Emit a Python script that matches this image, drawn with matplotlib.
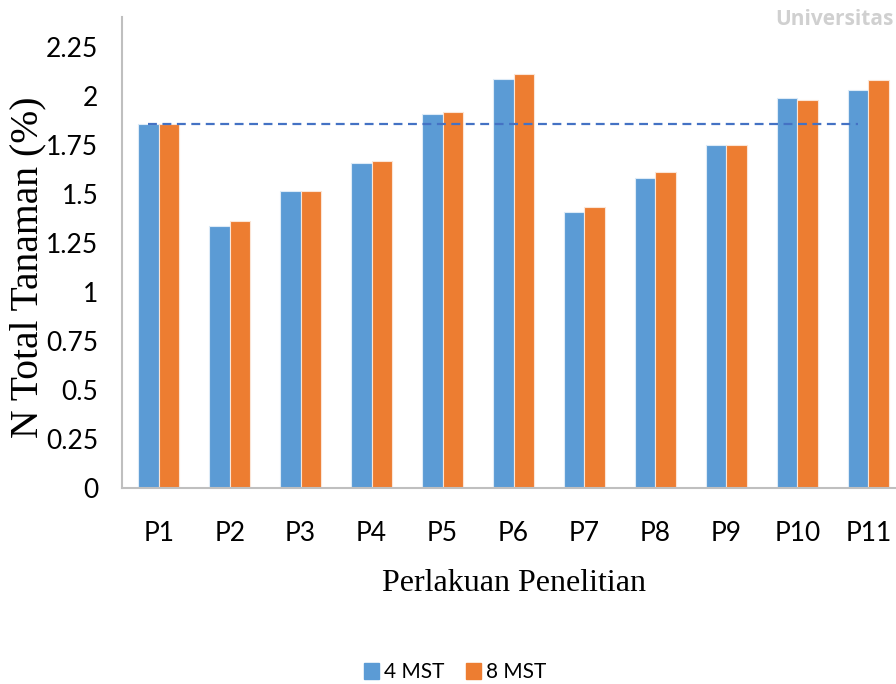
import numpy as np
import matplotlib
matplotlib.use("Agg")
import matplotlib.pyplot as plt
from matplotlib.patches import Patch

# data
perlakuan = ["P1", "P2", "P3", "P4", "P5", "P6", "P7", "P8", "P9", "P10", "P11"]
mst4 = [1.857, 1.335, 1.512, 1.658, 1.908, 2.085, 1.408, 1.578, 1.746, 1.988, 2.027]
mst8 = [1.857, 1.360, 1.512, 1.665, 1.917, 2.110, 1.432, 1.609, 1.746, 1.980, 2.077]
garis_acuan = 1.855
yticks = [0, 0.25, 0.5, 0.75, 1, 1.25, 1.5, 1.75, 2, 2.25]
ytick_labels = ["0", "0.25", "0.5", "0.75", "1", "1.25", "1.5", "1.75", "2", "2.25"]

BIRU = "#5B9BD5"
ORANYE = "#ED7D31"
TICK_FONT = ["Lato", "DejaVu Sans"]
SERIF = ["Liberation Serif", "DejaVu Serif"]

fig = plt.figure(figsize=(8.96, 6.84), dpi=100)
ax = fig.add_axes([0.136, 0.2865, 0.864, 0.6885])

x = np.arange(len(perlakuan))
w = 0.29
ax.bar(x - w / 2, mst4, w, color=BIRU, edgecolor="#DDEBF7", linewidth=0.8, zorder=2)
ax.bar(x + w / 2, mst8, w, color=ORANYE, edgecolor="#FBE5D6", linewidth=0.8, zorder=2)

# garis putus-putus acuan (nilai P1)
ax.plot([x[0] - w / 2, x[-1] - w / 2], [garis_acuan, garis_acuan],
        color="#4472C4", linestyle=(0, (4, 2.5)), linewidth=1.6, zorder=3)

ax.set_xlim(-0.52, 10.39)
ax.set_ylim(0, 2.4)
ax.set_yticks(yticks)
ax.set_yticklabels(ytick_labels, family=TICK_FONT, fontsize=19)
ax.set_xticks(x)
ax.set_xticklabels(perlakuan, family=TICK_FONT, fontsize=19)
ax.tick_params(axis="both", length=0)
ax.tick_params(axis="y", pad=17)
ax.tick_params(axis="x", pad=24)

for s in ["top", "right"]:
    ax.spines[s].set_visible(False)
for s in ["left", "bottom"]:
    ax.spines[s].set_color("#BFBFBF")
    ax.spines[s].set_linewidth(1.5)

fig.text(0.031, 0.61, "N Total Tanaman (%)", rotation=90, ha="center", va="center",
         family=SERIF, fontsize=28.5)
fig.text(0.574, 0.147, "Perlakuan Penelitian", ha="center", va="center",
         family=SERIF, fontsize=23)

# watermark samar di kanan atas
fig.text(0.997, 0.972, "Universitas", ha="right", va="center", color="#D0D0D0",
         fontsize=15, family=["Open Sans", "DejaVu Sans"], fontweight="bold")

handles = [Patch(color=BIRU, label="4 MST"), Patch(color=ORANYE, label="8 MST")]
fig.legend(handles=handles, loc="center", bbox_to_anchor=(0.508, 0.017), ncol=2,
           frameon=False, prop={"family": TICK_FONT, "size": 15},
           handlelength=0.75, handleheight=0.75, handletextpad=0.25, columnspacing=1.0)

fig.savefig("out.png", dpi=100)
